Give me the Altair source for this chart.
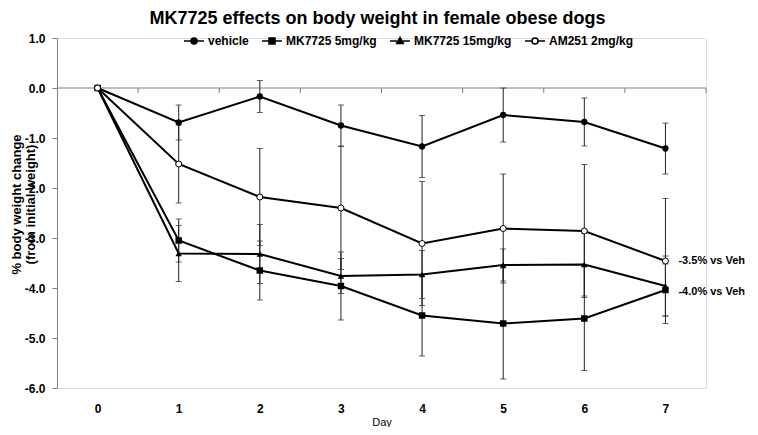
import altair as alt
import pandas as pd

# ---------------- data ----------------
days = [0, 1, 2, 3, 4, 5, 6, 7]
series_names = ["vehicle", "MK7725 5mg/kg", "MK7725 15mg/kg", "AM251 2mg/kg"]

vehicle_mean = [0.0, -0.69, -0.17, -0.75, -1.17, -0.54, -0.68, -1.21]
vehicle_err = [0.0, 0.35, 0.32, 0.41, 0.62, 0.54, 0.48, 0.51]
mk5_mean = [0.0, -3.05, -3.65, -3.96, -4.55, -4.71, -4.61, -4.04]
mk5_err = [0.0, 0.43, 0.59, 0.68, 0.81, 1.11, 1.04, 0.52]
mk15_mean = [0.0, -3.31, -3.32, -3.76, -3.73, -3.54, -3.53, -3.96]
mk15_err = [0.0, 0.56, 0.59, 0.35, 0.48, 0.32, 0.63, 0.60]
am_mean = [0.0, -1.52, -2.18, -2.40, -3.11, -2.81, -2.86, -3.46]
am_err = [0.0, 0.78, 0.97, 1.23, 1.24, 1.09, 1.33, 1.25]

y_ticks = [1, 0, -1, -2, -3, -4, -5, -6]
x_domain = [-0.5, 7.5]
y_domain = [-6, 1]
cat_bounds = [0.5, 1.5, 2.5, 3.5, 4.5, 5.5, 6.5, 7.5]

ann_text = ["-3.5% vs Veh", "-4.0% vs Veh"]
ann_day = [7, 7]
ann_y = [-3.46, -4.08]

title_text = "MK7725 effects on body weight in female obese dogs"
y_title = ["% body weight change", "(from initial weight)"]
x_title = "Day"

# ---------------- tables ----------------
rows = []
for name, means, errs in zip(series_names,
                             [vehicle_mean, mk5_mean, mk15_mean, am_mean],
                             [vehicle_err, mk5_err, mk15_err, am_err]):
    for d, m, e in zip(days, means, errs):
        rows.append(dict(series=name, day=d, mean=m, err=e, lo=m - e, hi=m + e))
df = pd.DataFrame(rows)
df_err = df[df["err"] > 0]
df_zero = pd.DataFrame({"x": [x_domain[0]], "x2": [x_domain[1]], "y": [0]})
df_bounds = pd.DataFrame({"b": cat_bounds})
df_ann = pd.DataFrame({"day": ann_day, "y": ann_y, "text": ann_text})

FONT = "Liberation Sans"
AXIS_GRAY = "#7f7f7f"
BAR_COLOR = "#222222"

x_scale = alt.Scale(domain=x_domain, nice=False, zero=False)
y_scale = alt.Scale(domain=y_domain, nice=False, zero=False)

x_axis = alt.Axis(values=days, format="d", domain=False, ticks=False, grid=False,
                  labelFont=FONT, labelFontSize=12, labelFontWeight="bold",
                  labelColor="black", labelPadding=15,
                  title=x_title, titleFont=FONT, titleFontSize=11,
                  titleFontWeight="normal", titleColor="black", titlePadding=2)
y_axis = alt.Axis(values=y_ticks, grid=False, domainColor=AXIS_GRAY, domainWidth=1,
                  tickColor=AXIS_GRAY, tickSize=5, tickWidth=1,
                  labelExpr="(datum.value < 0 ? '-' : '') + format(abs(datum.value), '.1f')",
                  labelFont=FONT, labelFontSize=12, labelFontWeight="bold",
                  labelColor="black", labelPadding=7,
                  title=y_title, titleFont=FONT, titleFontSize=13, titleFontWeight="bold",
                  titleColor="black", titleLineHeight=14, titleAngle=270,
                  titleAlign="center", titleBaseline="bottom", titleX=-34, titleY=166)


def X(field):
    return alt.X(field, type="quantitative", scale=x_scale, axis=x_axis)


def Y(field):
    return alt.Y(field, type="quantitative", scale=y_scale, axis=y_axis)


zero_line = alt.Chart(df_zero).mark_rule(color=AXIS_GRAY, strokeWidth=1).encode(
    x=X("x"), x2="x2", y=Y("y"))

x_ticks = alt.Chart(df_bounds).mark_rule(color=AXIS_GRAY, strokeWidth=1, y2Offset=5).encode(
    x=X("b"), y=alt.Y(datum=0, scale=y_scale, axis=y_axis), y2=alt.Y2(datum=0))

err_rules = alt.Chart(df_err).mark_rule(color=BAR_COLOR, strokeWidth=1).encode(
    x=X("day"), y=Y("lo"), y2="hi")
cap_lo = alt.Chart(df_err).mark_tick(color=BAR_COLOR, thickness=1, size=6,
                                     orient="horizontal").encode(x=X("day"), y=Y("lo"))
cap_hi = alt.Chart(df_err).mark_tick(color=BAR_COLOR, thickness=1, size=6,
                                     orient="horizontal").encode(x=X("day"), y=Y("hi"))

lines = alt.Chart(df).mark_line(color="black", strokeWidth=2).encode(
    x=X("day"), y=Y("mean"), detail="series:N")

marker_defs = [
    ("vehicle", dict(shape="circle", filled=True, color="black", size=40)),
    ("MK7725 5mg/kg", dict(shape="square", filled=True, color="black", size=42)),
    ("MK7725 15mg/kg", dict(shape="triangle-up", filled=True, color="black", size=42)),
    ("AM251 2mg/kg", dict(shape="circle", filled=True, fill="white", stroke="black",
                          strokeWidth=1, size=36)),
]
point_layers = []
for name, style in marker_defs:
    point_layers.append(
        alt.Chart(df).transform_filter(alt.datum.series == name)
        .mark_point(opacity=1, **style)
        .encode(x=X("day"), y=Y("mean"))
    )

# legend symbols: a short line with the marker in its middle
r = 0.3
legend_paths = [
    f"M-1,0L-{r},0M{r},0L1,0M-{r},0A{r},{r},0,1,1,{r},0A{r},{r},0,1,1,-{r},0Z",
    f"M-1,0L-{r},0M{r},0L1,0M-{r},-{r}L{r},-{r}L{r},{r}L-{r},{r}Z",
    f"M-1,0L-{r},0M{r},0L1,0M0,-0.36L0.34,0.24L-0.34,0.24Z",
    f"M-1,0L-{r},0M{r},0L1,0M-{r},0A{r},{r},0,1,1,{r},0A{r},{r},0,1,1,-{r},0Z",
]
legend_fills = ["black", "black", "black", "white"]
legend_strokes = ["black", "black", "black", "black"]
leg = alt.Legend(orient="none", legendX=126, legendY=-8, direction="horizontal",
                 columns=4, title=None, padding=0, symbolSize=400,
                 symbolStrokeWidth=1.5, symbolStrokeColor="black",
                 labelFont=FONT, labelFontSize=12, labelFontWeight="bold",
                 labelColor="black", labelOffset=3, columnPadding=10)
legend_layer = alt.Chart(df).transform_filter("datum.day < -100").mark_point(
    filled=True, strokeWidth=1.5, opacity=1).encode(
    x=X("day"), y=Y("mean"),
    shape=alt.Shape("series:N", scale=alt.Scale(domain=series_names, range=legend_paths),
                    legend=leg),
    fill=alt.Fill("series:N", scale=alt.Scale(domain=series_names, range=legend_fills),
                  legend=leg),
    stroke=alt.Stroke("series:N", scale=alt.Scale(domain=series_names, range=legend_strokes),
                      legend=leg),
)

annotations = alt.Chart(df_ann).mark_text(
    align="left", baseline="middle", dx=13, font=FONT, fontSize=11,
    fontWeight="bold", color="black").encode(x=X("day"), y=Y("y"), text="text:N")

chart = alt.layer(
    zero_line, x_ticks, lines, err_rules, cap_lo, cap_hi, *point_layers,
    legend_layer, annotations
).properties(
    width=649, height=350,
    title=alt.TitleParams(title_text, font=FONT, fontSize=18, fontWeight="bold",
                          color="black", anchor="middle", offset=2, dx=-4),
    autosize=alt.AutoSizeParams(type="none"),
    padding={"left": 49, "top": 30, "right": 44, "bottom": 39},
).configure_view(stroke=None).configure(background="white")

chart.save("out.html", embed_options={"renderer": "svg", "actions": False})
